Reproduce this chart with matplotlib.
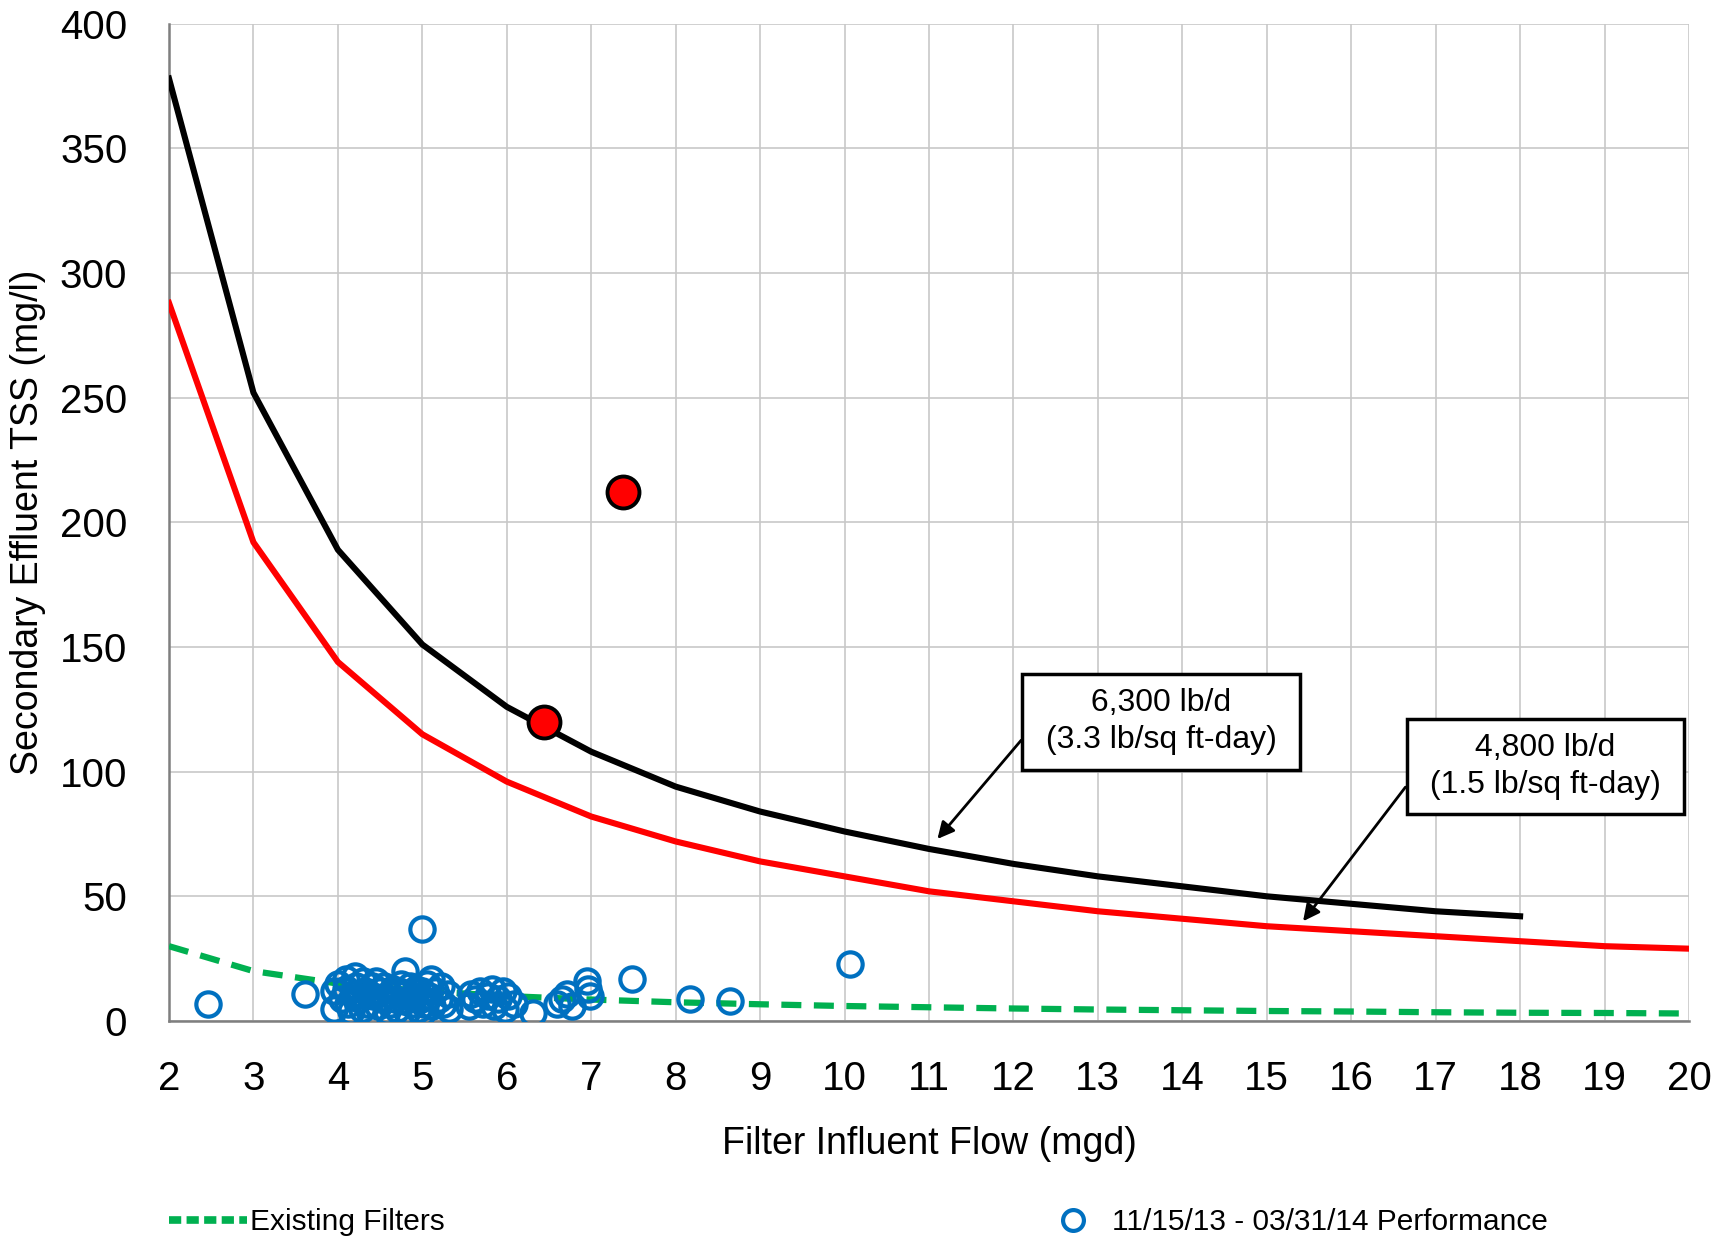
import matplotlib.pyplot as plt
from matplotlib.lines import Line2D

plt.rcParams['font.family'] = ['Liberation Sans', 'DejaVu Sans']

# design curves (mgd vs mg/l)
flow_6300 = [2, 3, 4, 5, 6, 7, 8, 9, 10, 11, 12, 13, 14, 15, 16, 17, 18]
tss_6300 = [378, 252, 189, 151, 126, 108, 94, 84, 76, 69, 63, 58, 54, 50, 47, 44, 42]

flow_4800 = [2, 3, 4, 5, 6, 7, 8, 9, 10, 11, 12, 13, 14, 15, 16, 17, 18, 19, 20]
tss_4800 = [288, 192, 144, 115, 96, 82, 72, 64, 58, 52, 48, 44, 41, 38, 36, 34, 32, 30, 29]

flow_exist = [2, 3, 4, 5, 6, 7, 8, 9, 10, 11, 12, 13, 14, 15, 16, 17, 18, 19, 20]
tss_exist = [30, 20, 15, 12, 10, 8.6, 7.5, 6.7, 6, 5.5, 5, 4.6, 4.3, 4, 3.8, 3.5, 3.3, 3.2, 3]

# measured performance 11/15/13 - 03/31/14
perf_flow = [2.46, 3.61, 5.0,
             3.95, 3.95, 4.0, 4.05, 4.1, 4.1, 4.12, 4.15, 4.18, 4.2, 4.22, 4.25, 4.28,
             4.3, 4.32, 4.35, 4.38, 4.4, 4.42, 4.45, 4.48, 4.5, 4.52, 4.55, 4.58, 4.6,
             4.62, 4.65, 4.68, 4.7, 4.72, 4.75, 4.78, 4.8, 4.8, 4.82, 4.85, 4.88, 4.9,
             4.92, 4.95, 4.98, 5.0, 5.0, 5.02, 5.05, 5.08, 5.1, 5.12, 5.15, 5.2, 5.22,
             5.25, 5.3, 5.32,
             5.55, 5.58, 5.62, 5.68, 5.72, 5.78, 5.82, 5.85, 5.9, 5.95, 5.98, 6.02, 6.08,
             6.31, 6.6, 6.65, 6.71, 6.77, 6.95, 6.96, 6.98,
             7.48, 8.17, 8.64, 10.06]
perf_tss = [7, 11, 37,
            5, 12, 15, 9, 17, 13, 7, 4, 11, 18, 14, 9, 5,
            16, 12, 7, 3, 14, 10, 16, 6, 12, 9, 14, 4, 11,
            7, 13, 9, 5, 12, 15, 8, 20, 11, 4, 14, 7, 10,
            13, 5, 9, 3, 12, 7, 15, 10, 17, 6, 12, 9, 14,
            7, 11, 5,
            6, 11, 9, 12, 7, 10, 13, 6, 9, 12, 5, 10, 7,
            3, 7, 9, 11, 6, 16, 13, 10,
            17, 9, 8, 23]

# high TSS events
event_flow = [7.38, 6.44]
event_tss = [212, 120]

fig = plt.figure(figsize=(17.14, 12.46), dpi=100)
ax = fig.add_axes([0.0986, 0.1806, 0.8868, 0.8004])

ax.plot(flow_exist, tss_exist, color='#00B050', lw=4.5, ls=(0, (3.2, 2.0)), zorder=3)
ax.plot(perf_flow, perf_tss, ls='none', marker='o', ms=17.5, mfc='none',
        mec='#0070C0', mew=3, zorder=4)
ax.plot(flow_4800, tss_4800, color='#FF0000', lw=4.4, zorder=5)
ax.plot(flow_6300, tss_6300, color='black', lw=4.4, zorder=5)
ax.plot(event_flow, event_tss, ls='none', marker='o', ms=23, mfc='#FF0000',
        mec='black', mew=2.8, zorder=6)

ax.set_xlim(2, 20)
ax.set_ylim(0, 400)
ax.set_xticks(range(2, 21))
ax.set_yticks(range(0, 401, 50))
ax.grid(True, color='#C8C8C8', lw=1.2)
ax.set_axisbelow(True)
for s in ['top', 'right']:
    ax.spines[s].set_visible(False)
for s in ['left', 'bottom']:
    ax.spines[s].set_color('#7F7F7F')
    ax.spines[s].set_linewidth(1.8)
ax.tick_params(length=0, labelsize=29, pad=28)
ax.tick_params(axis='y', pad=30)

ax.set_xlabel('Filter Influent Flow (mgd)', fontsize=27, labelpad=20)
ax.set_ylabel('Secondary Effluent TSS (mg/l)', fontsize=27, labelpad=10)

box = dict(boxstyle='square,pad=0.45', fc='white', ec='black', lw=2.5)
arrow = dict(arrowstyle='-|>', color='black', lw=2, mutation_scale=25,
             relpos=(0, 0.5), shrinkA=0, shrinkB=0)
ax.annotate(' 6,300 lb/d \n (3.3 lb/sq ft-day) ', xy=(11.1, 73), xytext=(13.75, 120),
            ha='center', va='center', fontsize=23, linespacing=1.3,
            bbox=box, arrowprops=arrow, zorder=7)
ax.annotate(' 4,800 lb/d \n (1.5 lb/sq ft-day) ', xy=(15.43, 40), xytext=(18.3, 102),
            ha='center', va='center', fontsize=23, linespacing=1.3,
            bbox=box, arrowprops=arrow, zorder=7)

h1 = Line2D([], [], color='#00B050', lw=5.5, ls=(0, (1.6, 0.7)))
h2 = Line2D([], [], ls='none', marker='o', ms=15, mfc='none', mec='#0070C0', mew=3)
fig.legend(handles=[h1], labels=['Existing Filters'], loc='center left',
           bbox_to_anchor=(0.083, 0.019), frameon=False, fontsize=21.5,
           handlelength=2.6, handletextpad=0.1)
fig.legend(handles=[h2], labels=['11/15/13 - 03/31/14 Performance'], loc='center left',
           bbox_to_anchor=(0.6, 0.019), frameon=False, fontsize=21.5,
           handlelength=1.2, handletextpad=0.7)

fig.savefig('out.png', dpi=100)
